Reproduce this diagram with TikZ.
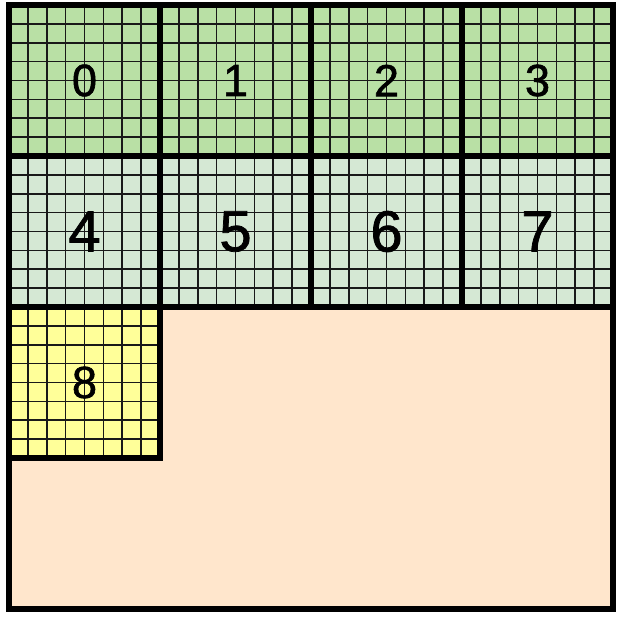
\documentclass[tikz,border=0pt]{standalone}
\usepackage{fontspec}
\setmainfont{Liberation Sans}
\newfontfamily\numfont{Liberation Sans}[FakeBold=1.3]
\usetikzlibrary{calc}
\definecolor{gtop}{HTML}{B9E0A5}
\definecolor{gmid}{HTML}{D5E8D4}
\definecolor{ylw}{HTML}{FFFF99}
\definecolor{peach}{HTML}{FFE6CC}
\tikzset{
  block/.style={draw=none, fill=#1, minimum size=151pt, inner sep=0pt, outer sep=0pt,
    path picture={
      \foreach \i in {1,...,7}{
        \draw[gridline] ($(path picture bounding box.north west)+(\i*18.875pt,0)$) -- ($(path picture bounding box.south west)+(\i*18.875pt,0)$);
        \draw[gridline] ($(path picture bounding box.north west)+(0,-\i*18.875pt)$) -- ($(path picture bounding box.north east)+(0,-\i*18.875pt)$);
      }
    }},
  gridline/.style={draw=black!90, line width=1.7pt},
  thick border/.style={line width=5.2pt, line cap=rect},
  smallnum/.style={font=\numfont\fontsize{45}{45}\selectfont},
  bignum/.style={font=\numfont\fontsize{58}{58}\selectfont},
}
\begin{document}
\begin{tikzpicture}[x=1pt,y=-1pt]
\useasboundingbox (0,0) rectangle (624,622);
\fill[peach] (9,5) rectangle (613,609);
% row 1
\node[block=gtop, smallnum] (b0) at (84.5,80.5) {0};
\node[block=gtop, smallnum] (b1) at (235.5,80.5) {1};
\node[block=gtop, smallnum] (b2) at (386.5,80.5) {2};
\node[block=gtop, smallnum] (b3) at (537.5,80.5) {3};
% row 2
\node[block=gmid, bignum] (b4) at (84.5,231.5) {4};
\node[block=gmid, bignum] (b5) at (235.5,231.5) {5};
\node[block=gmid, bignum] (b6) at (386.5,231.5) {6};
\node[block=gmid, bignum] (b7) at (537.5,231.5) {7};
% row 3
\node[block=ylw, smallnum] (b8) at (84.5,382.5) {8};
% thick borders
\draw[thick border] (9,5) rectangle (613,609);
\draw[thick border] (b0.south west) -- (b3.south east);
\draw[thick border] (b4.south west) -- (b7.south east);
\draw[thick border] (b0.north east) -- (b4.south east);
\draw[thick border] (b1.north east) -- (b5.south east);
\draw[thick border] (b2.north east) -- (b6.south east);
\draw[thick border] (b8.north east) -- (b8.south east) -- (b8.south west);
\end{tikzpicture}
\end{document}
